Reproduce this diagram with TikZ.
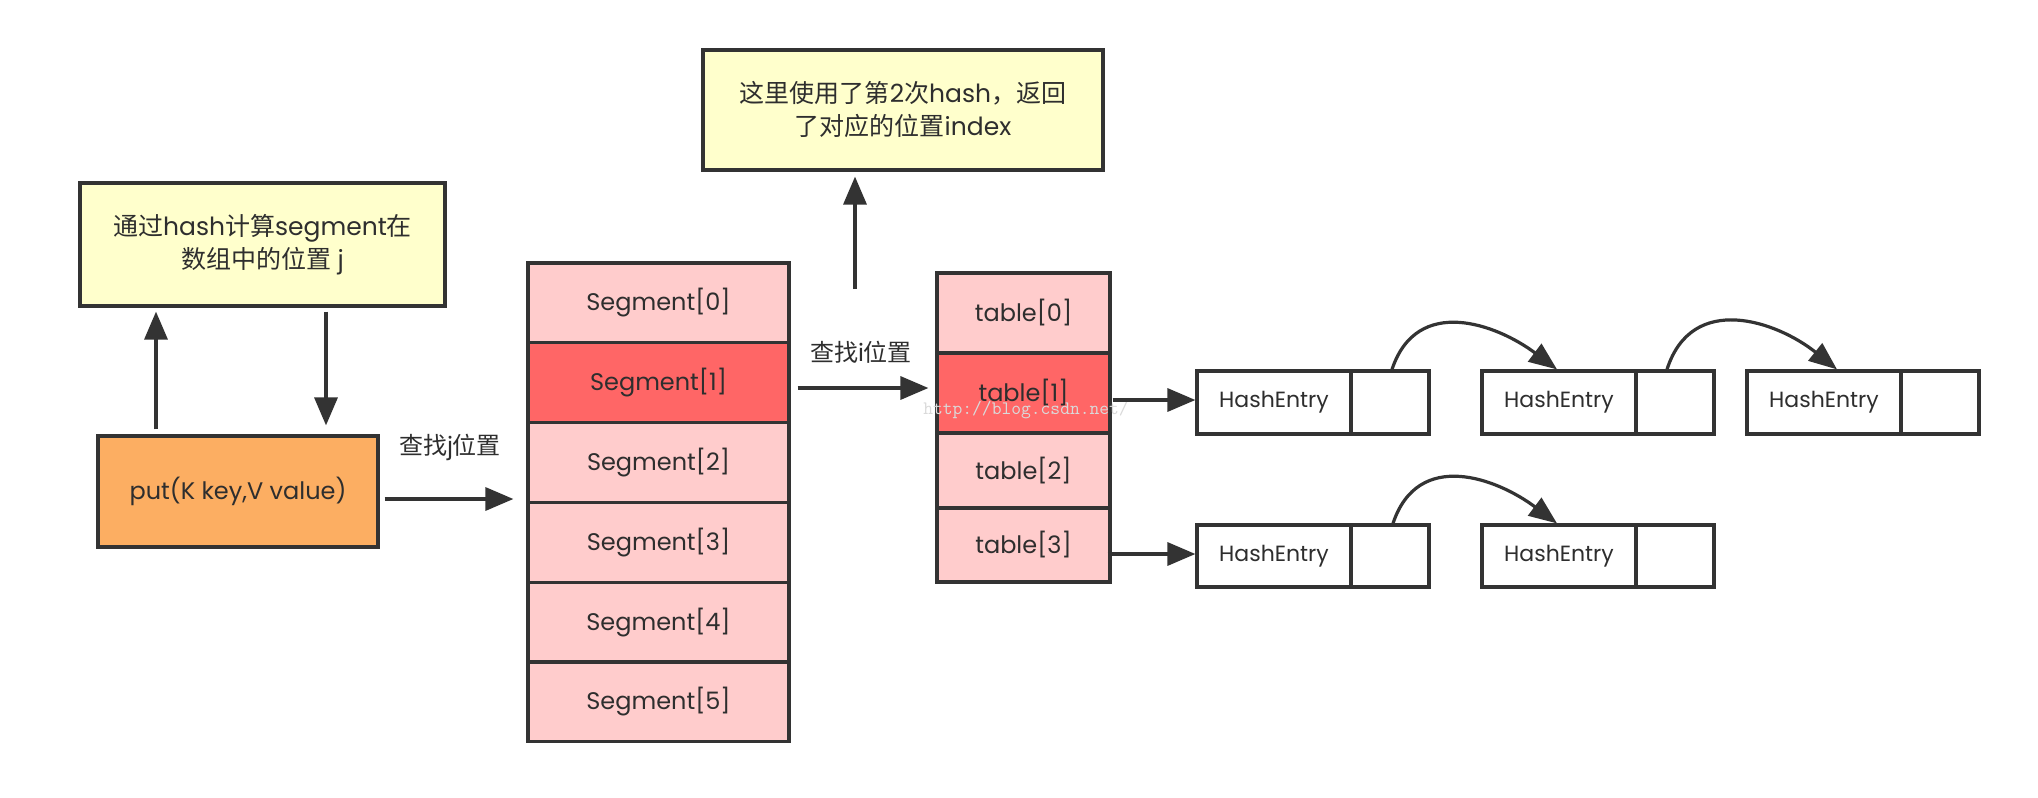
\documentclass[tikz,border=0pt]{standalone}
\usepackage{fontspec}
\setmainfont{Poppins}
\newfontfamily\cjk{Noto Sans CJK SC}
\usetikzlibrary{arrows.meta}
\definecolor{bd}{HTML}{333333}
\definecolor{tx}{HTML}{2E2E2E}
\definecolor{ylw}{HTML}{FFFFCC}
\definecolor{org}{HTML}{FCAE62}
\definecolor{pnk}{HTML}{FFCCCC}
\definecolor{rd}{HTML}{FF6666}
\definecolor{wm}{HTML}{DADADA}
\begin{document}
\begin{tikzpicture}[x=1pt,y=-1pt,
  box/.style={draw=bd, line width=3.2pt, inner sep=0pt, text=tx, font=\fontsize{24}{32}\selectfont, align=center},
  note/.style={box, fill=ylw, font=\fontsize{25}{33}\selectfont},
  arr/.style={draw=bd, line width=3.4pt, -{Triangle[length=28pt,width=23pt]}},
  carr/.style={draw=bd, line width=3.2pt, -{Triangle[length=28pt,width=22pt]}},
  lbl/.style={text=tx, font=\fontsize{24}{30}\selectfont, inner sep=0pt},
  ebox/.style={draw=bd, line width=3.2pt, fill=white, inner sep=0pt, text=tx, font=\fontsize{22}{28}\selectfont}
]
\useasboundingbox (0,0) rectangle (2038,798);
\fill[white] (0,0) rectangle (2038,798);

% yellow note 1
\node[note, minimum width=365, minimum height=123] (h1) at (262.5,244.5)
  {{\cjk 通过}hash{\cjk 计算}segment{\cjk 在}\\{\cjk 数组中的位置} j};
% put box
\node[box, fill=org, minimum width=280, minimum height=111] (put) at (238,491.5) {put(K key,V value)};

% segment array
\foreach \i/\c in {0/pnk,1/rd,2/pnk,3/pnk,4/pnk,5/pnk}{
  \node[box, fill=\c, minimum width=261, minimum height=79.8] (s\i) at (658.5,{263+79.8*(\i+0.5)}) {Segment[\i]};
}

% yellow note 2
\node[note, minimum width=400, minimum height=120] (h2) at (903,110)
  {{\cjk 这里使用了第}2{\cjk 次}hash{\cjk ，返回}\\{\cjk 了对应的位置}index};

% table
\node[box, fill=pnk, minimum width=173, minimum height=80] (t0) at (1023.5,313) {table[0]};
\node[box, fill=rd,  minimum width=173, minimum height=80] (t1) at (1023.5,393) {table[1]};
\node[box, fill=pnk, minimum width=173, minimum height=75] (t2) at (1023.5,470.5) {table[2]};
\node[box, fill=pnk, minimum width=173, minimum height=74] (t3) at (1023.5,545) {table[3]};

% watermark
\node[text=wm, font=\ttfamily\fontsize{19}{22}\selectfont, inner sep=0pt] (wmk) at (1026,410) {http://blog.csdn.net/};

% hash entries row 1
\node[ebox, minimum width=154, minimum height=63] (a1) at (1274,402.5) {HashEntry};
\node[ebox, minimum width=78, minimum height=63] (a1p) at (1390,402.5) {};
\node[ebox, minimum width=154, minimum height=63] (b1) at (1559,402.5) {HashEntry};
\node[ebox, minimum width=78, minimum height=63] (b1p) at (1675,402.5) {};
\node[ebox, minimum width=154, minimum height=63] (c1) at (1824,402.5) {HashEntry};
\node[ebox, minimum width=78, minimum height=63] (c1p) at (1940,402.5) {};
% row 2
\node[ebox, minimum width=154, minimum height=62] (a2) at (1274,556) {HashEntry};
\node[ebox, minimum width=78, minimum height=62] (a2p) at (1390,556) {};
\node[ebox, minimum width=154, minimum height=62] (b2) at (1559,556) {HashEntry};
\node[ebox, minimum width=78, minimum height=62] (b2p) at (1675,556) {};

% coordinates for connectors
\coordinate (upx) at (156,0);
\coordinate (dnx) at (326,0);
\coordinate (py) at (0,499);
\coordinate (sy) at (0,388);
\coordinate (hx) at (855,0);
\coordinate (hstart) at (855,289);
\coordinate (r1y) at (0,400);
\coordinate (r2y) at (0,554);

% arrows
\draw[arr, shorten <=5pt, shorten >=4pt] (put.north -| upx) -- (h1.south -| upx);
\draw[arr, shorten >=9pt, shorten <=4pt] (h1.south -| dnx) -- (put.north -| dnx);
\draw[arr, shorten <=5pt, shorten >=13pt] (put.east |- py) -- (s0.west |- py);
\draw[arr, shorten <=7pt, shorten >=7pt] (s1.east |- sy) -- (t1.west |- sy);
\draw[arr, shorten >=5pt] (hstart) -- (h2.south -| hx);
\draw[arr, shorten <=1pt] (t1.east |- r1y) -- (a1.west |- r1y);
\draw[arr, shorten <=-4pt] (t3.east |- r2y) -- (a2.west |- r2y);

% labels
\node[lbl] (lj) at (450,447) {{\cjk 查找}j{\cjk 位置}};
\node[lbl] (li) at (861,352) {{\cjk 查找}i{\cjk 位置}};

% curved next-pointers
\draw[carr] ([xshift=2pt]a1p.north) .. controls +(25,-75) and +(-60,-45) .. ([xshift=-2pt]b1.north);
\draw[carr] ([xshift=-8pt]b1p.north) .. controls +(25,-78) and +(-60,-48) .. ([xshift=13pt]c1.north);
\draw[carr] ([xshift=3pt]a2p.north) .. controls +(25,-75) and +(-60,-45) .. ([xshift=-2pt]b2.north);
\end{tikzpicture}
\end{document}
